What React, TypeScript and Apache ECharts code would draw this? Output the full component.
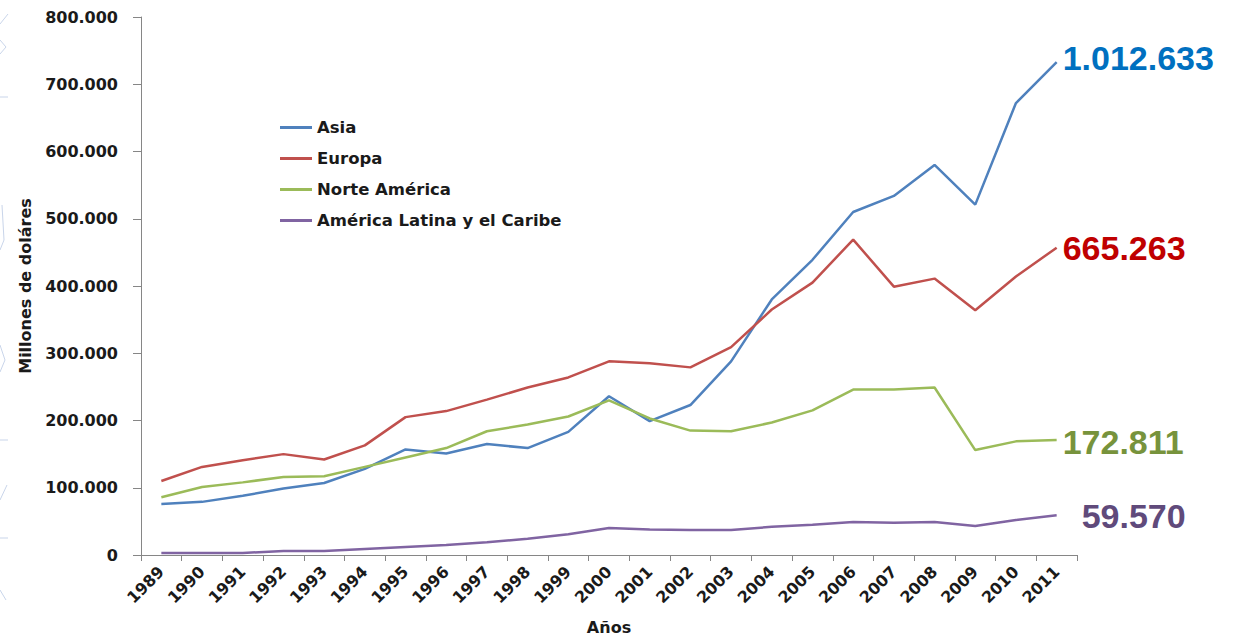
import React, { useEffect, useRef } from "react";
import * as echarts from "echarts";

const years = ["1989","1990","1991","1992","1993","1994","1995","1996","1997","1998","1999","2000","2001","2002","2003","2004","2005","2006","2007","2008","2009","2010","2011"];
const asia = [76000,79000,88000,99000,107000,128000,157000,151000,165000,159000,183000,236000,199000,223000,288000,380000,439000,510000,534000,580000,521000,672000,733000];
const europa = [110000,131000,141000,150000,142000,163000,205000,214000,231000,249000,264000,288000,285000,279000,309000,365000,405000,469000,399000,411000,364000,414000,457000];
const norteAmerica = [86000,101000,108000,116000,117000,131000,145000,159000,184000,194000,206000,230000,203000,185000,184000,197000,215000,246000,246000,249000,156000,169000,171000];
const americaLatina = [3000,3000,3000,6000,6000,9000,12000,15000,19000,24000,31000,40000,38000,37000,37000,42000,45000,49000,48000,49000,43000,52000,59000];
const endLabels = ["1.012.633","665.263","172.811","59.570"];
const seriesNames = ["Asia","Europa","Norte América","América Latina y el Caribe"];

const lineColors = ["#4F81BD","#C0504D","#9BBB59","#8064A2"];
const labelColors = ["#0070C0","#C00000","#77933C","#604A7B"];
const labelDistances = [6, 6, 6, 25];
const labelOffsets = [[0, -4], [0, 0], [0, 2], [0, 1]];

const fmt = (v: number) => {
  if (v === 0) return "0";
  const s = String(Math.round(v));
  return s.replace(/\B(?=(\d{3})+(?!\d))/g, ".");
};

export default function App() {
  const ref = useRef<HTMLDivElement>(null);
  useEffect(() => {
    if (!ref.current) return;
    const chart = echarts.init(ref.current, null, { renderer: "svg" });
    const data = [asia, europa, norteAmerica, americaLatina];
    const deco = "#c9d5ea";
    const txt = { fontFamily: "DejaVu Sans", fontWeight: "bold", color: "#1a1a1a" };
    chart.setOption({
      animation: false,
      backgroundColor: "#ffffff",
      textStyle: { fontFamily: "DejaVu Sans" },
      grid: { left: 141, top: 17, width: 936, height: 540, containLabel: false },
      legend: {
        orient: "vertical",
        left: 275,
        top: 114,
        itemWidth: 32,
        itemHeight: 3,
        itemGap: 14,
        icon: "rect",
        textStyle: { ...txt, fontSize: 16.5 },
        data: seriesNames,
      },
      xAxis: {
        type: "category",
        data: years,
        boundaryGap: true,
        name: "Años",
        nameLocation: "middle",
        nameGap: 64,
        nameTextStyle: { ...txt, fontSize: 16 },
        axisLine: { lineStyle: { color: "#868686", width: 1 } },
        axisTick: { show: true, length: 6, alignWithLabel: false, lineStyle: { color: "#868686" } },
        axisLabel: { ...txt, rotate: 45, interval: 0, margin: 14, fontSize: 16 },
      },
      yAxis: {
        type: "value",
        min: 0,
        max: 800000,
        interval: 100000,
        name: "Millones de doláres",
        nameLocation: "middle",
        nameRotate: 90,
        nameGap: 108,
        nameTextStyle: { ...txt, fontSize: 16 },
        axisLine: { show: true, lineStyle: { color: "#868686", width: 1 } },
        axisTick: { show: true, inside: false, length: 8, lineStyle: { color: "#868686" } },
        splitLine: { show: false },
        axisLabel: { ...txt, margin: 23, formatter: (v: number) => fmt(v), fontSize: 16 },
      },
      series: seriesNames.map((name, i) => ({
        name,
        type: "line",
        data: data[i],
        symbol: "none",
        showSymbol: false,
        color: lineColors[i],
        lineStyle: { width: 2.5, color: lineColors[i] },
        endLabel: {
          show: true,
          formatter: () => endLabels[i],
          distance: labelDistances[i],
          offset: labelOffsets[i],
          fontFamily: "Liberation Sans",
          fontWeight: "bold",
          fontSize: 34,
          color: labelColors[i],
        },
      })),
      graphic: [
        { type: "polyline", shape: { points: [[0, 24], [8, 14]] }, style: { stroke: deco, lineWidth: 1, fill: "none" } },
        { type: "polyline", shape: { points: [[0, 40], [6, 47], [0, 54]] }, style: { stroke: deco, lineWidth: 1, fill: "none" } },
        { type: "line", shape: { x1: 0, y1: 97, x2: 8, y2: 97 }, style: { stroke: deco, lineWidth: 1 } },
        { type: "polyline", shape: { points: [[2, 205], [4, 240], [0, 250]] }, style: { stroke: deco, lineWidth: 1, fill: "none" } },
        { type: "polyline", shape: { points: [[0, 345], [5, 360], [0, 372]] }, style: { stroke: deco, lineWidth: 1, fill: "none" } },
        { type: "line", shape: { x1: 0, y1: 440, x2: 8, y2: 440 }, style: { stroke: deco, lineWidth: 1 } },
        { type: "polyline", shape: { points: [[0, 500], [7, 485]] }, style: { stroke: deco, lineWidth: 1, fill: "none" } },
        { type: "line", shape: { x1: 0, y1: 538, x2: 8, y2: 538 }, style: { stroke: deco, lineWidth: 1 } },
        { type: "polyline", shape: { points: [[0, 590], [6, 600]] }, style: { stroke: deco, lineWidth: 1, fill: "none" } },
      ],
    });
    return () => chart.dispose();
  }, []);
  return (
    <div
      ref={ref}
      style={{ position: "fixed", left: 0, top: 0, width: 1243, height: 640 }}
    />
  );
}
